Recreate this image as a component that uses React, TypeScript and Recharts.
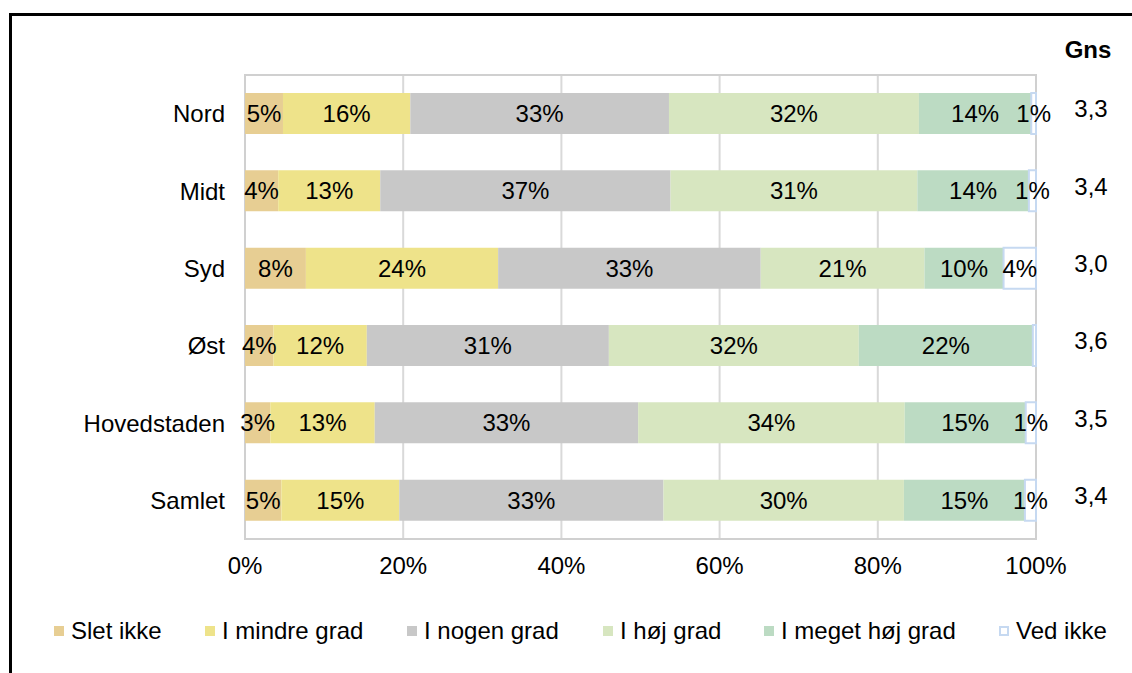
import React from 'react'
import {
  BarChart,
  Bar,
  XAxis,
  YAxis,
  CartesianGrid,
  LabelList,
  ReferenceArea,
} from 'recharts'

const regions = ['Nord', 'Midt', 'Syd', 'Øst', 'Hovedstaden', 'Samlet']
const sletIkke = [4.8, 4.2, 7.7, 3.6, 3.2, 4.6]
const mindreGrad = [16.1, 12.9, 24.3, 11.8, 13.2, 14.9]
const nogenGrad = [32.7, 36.7, 33.2, 30.6, 33.3, 33.4]
const hoejGrad = [31.6, 31.2, 20.7, 31.6, 33.7, 30.4]
const megetHoejGrad = [14.2, 14.1, 10.0, 22.0, 15.3, 15.3]
const vedIkke = [0.6, 0.9, 4.1, 0.4, 1.3, 1.4]
const gns = [3.3, 3.4, 3.0, 3.6, 3.5, 3.4]
const xTicks = [0, 20, 40, 60, 80, 100]

const series = [
  { key: 'sletIkke', name: 'Slet ikke', fill: '#E7CE93', stroke: 'none' },
  { key: 'mindreGrad', name: 'I mindre grad', fill: '#EEE38A', stroke: 'none' },
  { key: 'nogenGrad', name: 'I nogen grad', fill: '#C8C8C8', stroke: 'none' },
  { key: 'hoejGrad', name: 'I høj grad', fill: '#D7E6C0', stroke: 'none' },
  { key: 'megetHoejGrad', name: 'I meget høj grad', fill: '#BCDBC3', stroke: 'none' },
  { key: 'vedIkke', name: 'Ved ikke', fill: '#FFFFFF', stroke: '#C6D9F1' },
]

const data = regions.map((name, i) => ({
  name,
  sletIkke: sletIkke[i],
  mindreGrad: mindreGrad[i],
  nogenGrad: nogenGrad[i],
  hoejGrad: hoejGrad[i],
  megetHoejGrad: megetHoejGrad[i],
  vedIkke: vedIkke[i],
  gns: gns[i],
}))

const FONT = '"Liberation Sans", Arial, sans-serif'
const FS = 24

const pct = (v: any) => {
  const r = Math.round(Number(v))
  return r === 0 ? '' : `${r}%`
}

const GnsTick = ({ x, y, payload }: any) => {
  const row = data.find((d) => d.name === payload.value)
  return (
    <text x={x + 55} y={y - 5} dy="0.355em" textAnchor="middle" fontSize={FS} fontFamily={FONT} fill="#000">
      {row ? row.gns.toFixed(1).replace('.', ',') : ''}
    </text>
  )
}

const legendLeft = [54, 205, 407, 603, 764, 999]

export default function App() {
  return (
    <div style={{ position: 'relative', width: 1132, height: 673, overflow: 'hidden', background: '#fff', fontFamily: FONT }}>
      <style>{'html,body{margin:0;padding:0;overflow:hidden;}'}</style>
      <div
        style={{
          position: 'absolute',
          left: 9,
          top: 13,
          width: 1200,
          height: 720,
          border: '3px solid #000',
          boxSizing: 'border-box',
        }}
      />
      <div style={{ position: 'absolute', left: 0, top: 0 }}>
        <BarChart
          layout="vertical"
          width={1132}
          height={673}
          data={data}
          margin={{ top: 75, right: 0, bottom: 94, left: 0 }}
          barSize={41}
        >
          <CartesianGrid horizontal={false} stroke="#D9D9D9" strokeWidth={2} />
          <ReferenceArea x1={0} x2={100} fill="none" stroke="#D0D0D0" strokeWidth={2} />
          <XAxis
            type="number"
            domain={[0, 100]}
            ticks={xTicks}
            tickFormatter={(v) => `${v}%`}
            axisLine={false}
            tickLine={false}
            tickSize={0}
            tickMargin={18}
            height={40}
            tick={{ fontSize: FS, fill: '#000', fontFamily: FONT }}
          />
          <YAxis
            type="category"
            dataKey="name"
            width={245}
            axisLine={false}
            tickLine={false}
            tickSize={0}
            tickMargin={20}
            tick={{ fontSize: FS, fill: '#000', fontFamily: FONT }}
          />
          <YAxis
            yAxisId="gns"
            orientation="right"
            type="category"
            dataKey="name"
            width={96}
            axisLine={false}
            tickLine={false}
            tickSize={0}
            tickMargin={0}
            tick={<GnsTick />}
          />
          {series.map((s) => (
            <Bar
              key={s.key}
              dataKey={s.key}
              name={s.name}
              stackId="a"
              fill={s.fill}
              stroke={s.stroke}
              strokeWidth={s.stroke === 'none' ? 0 : 2}
              isAnimationActive={false}
            >
              <LabelList
                dataKey={s.key}
                position="center"
                formatter={pct}
                fill="#000"
                fontSize={FS}
                fontFamily={FONT}
              />
            </Bar>
          ))}
        </BarChart>
      </div>
      <div
        style={{
          position: 'absolute',
          left: 1048,
          top: 36,
          width: 80,
          textAlign: 'center',
          fontWeight: 'bold',
          fontSize: FS,
          lineHeight: '28px',
          color: '#000',
        }}
      >
        Gns
      </div>
      {series.map((s, i) => (
        <div
          key={s.key}
          style={{
            position: 'absolute',
            left: legendLeft[i],
            top: 617,
            height: 28,
            display: 'flex',
            alignItems: 'center',
            fontSize: FS,
            color: '#000',
            whiteSpace: 'nowrap',
          }}
        >
          <span
            style={{
              display: 'inline-block',
              width: 10,
              height: 10,
              background: s.fill,
              border: s.stroke === 'none' ? 'none' : `2px solid ${s.stroke}`,
              boxSizing: 'border-box',
              marginRight: 7,
            }}
          />
          {s.name}
        </div>
      ))}
    </div>
  )
}
